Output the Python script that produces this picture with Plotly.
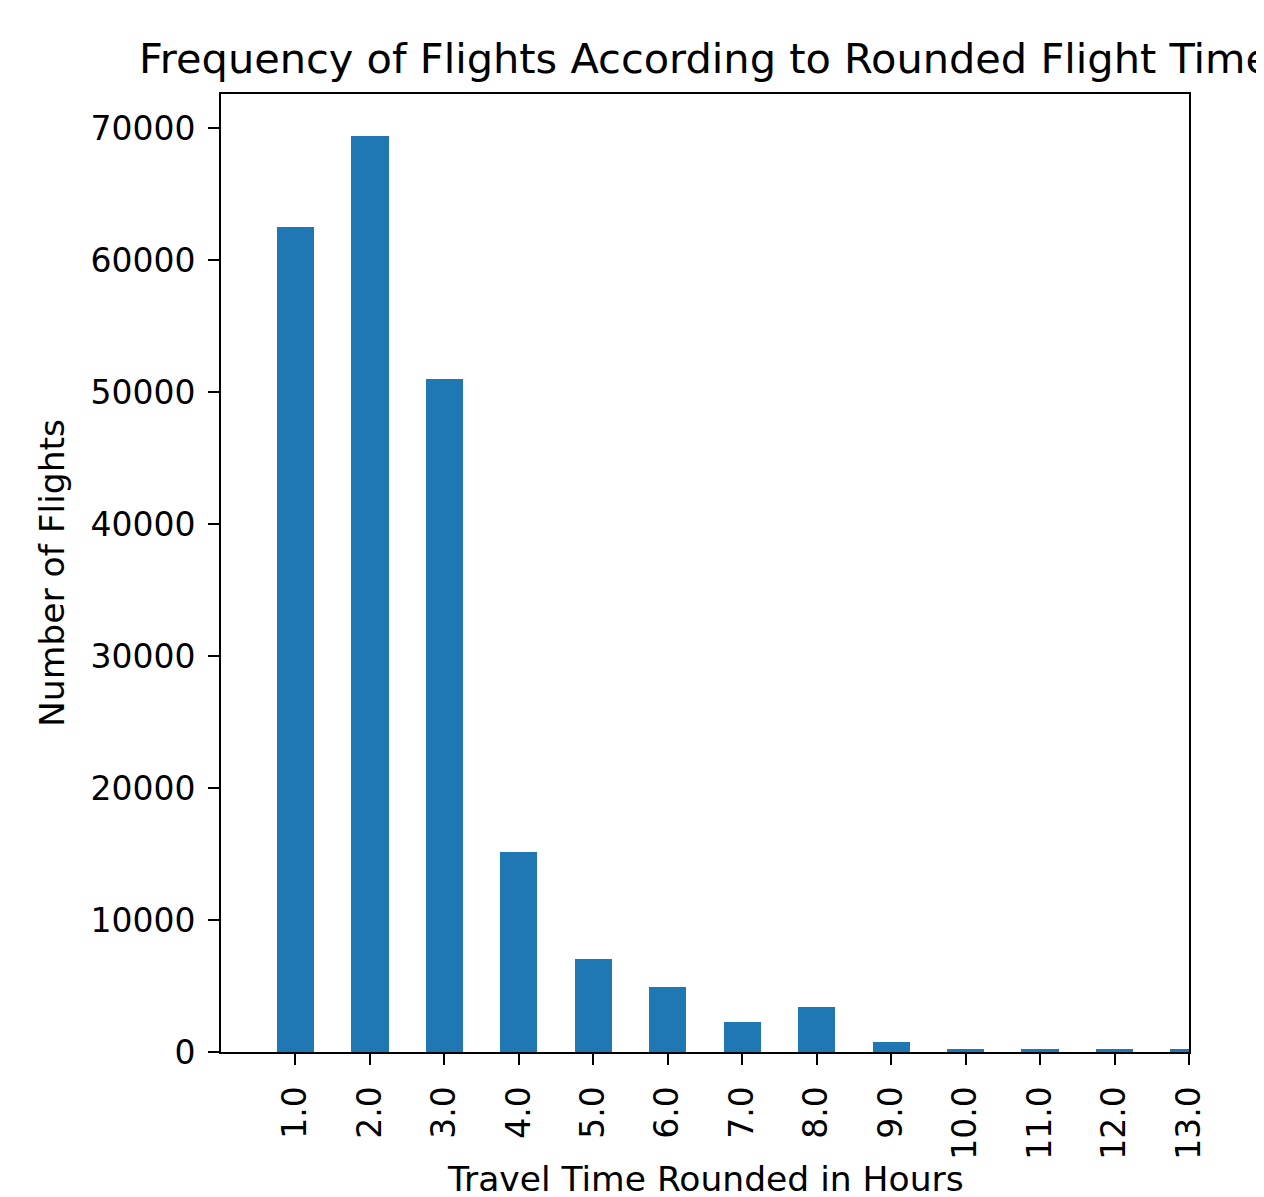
import plotly.graph_objects as go

hours = [1.0, 2.0, 3.0, 4.0, 5.0, 6.0, 7.0, 8.0, 9.0, 10.0, 11.0, 12.0, 13.0]
tick_labels = ["1.0", "2.0", "3.0", "4.0", "5.0", "6.0", "7.0", "8.0", "9.0",
               "10.0", "11.0", "12.0", "13.0"]
flights = [62520, 69380, 51000, 15160, 7030, 4950, 2300, 3440, 790, 230, 220, 220, 220]

W, H = 1264, 1197
OFF = 8  # page body margin
L, R, T, B = 221 - OFF, 1189 - OFF, 94 - OFF, 1052 - OFF
FONT = "DejaVu Sans"

fig = go.Figure(go.Bar(x=hours, y=flights, width=0.5, marker_color="#1f77b4",
                       marker_line_width=0))

fig.update_layout(
    width=W, height=H,
    margin=dict(l=L, r=W - R, t=T, b=H - B, pad=0),
    plot_bgcolor="white", paper_bgcolor="white",
    showlegend=False,
    font=dict(family=FONT, size=33, color="black"),
    title=dict(text="Frequency of Flights According to Rounded Flight Time",
               x=0.5, xref="paper", xanchor="center",
               y=1 - (58 - OFF) / H, yref="container", yanchor="middle",
               font=dict(family=FONT, size=41.5, color="black")),
    bargap=0,
)

fig.update_xaxes(range=[0, 13], tickvals=hours, ticktext=tick_labels, tickangle=-90,
                 ticks="outside", ticklen=11, tickwidth=2, tickcolor="black",
                 showline=True, linecolor="black", linewidth=2, mirror=True,
                 showgrid=False, zeroline=False, ticklabelstandoff=8,
                 tickfont=dict(family=FONT, size=33, color="black"))
fig.update_yaxes(range=[0, 72598], tickvals=list(range(0, 70001, 10000)),
                 tickformat="d",
                 ticks="outside", ticklen=11, tickwidth=2, tickcolor="black",
                 showline=True, linecolor="black", linewidth=2, mirror=True,
                 showgrid=False, zeroline=False, ticklabelstandoff=6,
                 tickfont=dict(family=FONT, size=33, color="black"))

fig.add_annotation(text="Travel Time Rounded in Hours", xref="paper", yref="paper",
                   x=0.5, y=(B - (1179 - OFF)) / (B - T), xanchor="center", yanchor="middle",
                   showarrow=False, font=dict(family=FONT, size=34.5, color="black"))
fig.add_annotation(text="Number of Flights", xref="paper", yref="paper",
                   x=(52 - 221) / (R - L), y=0.5, xanchor="center", yanchor="middle",
                   textangle=-90, showarrow=False,
                   font=dict(family=FONT, size=34.5, color="black"))

fig.write_html("out.html")
